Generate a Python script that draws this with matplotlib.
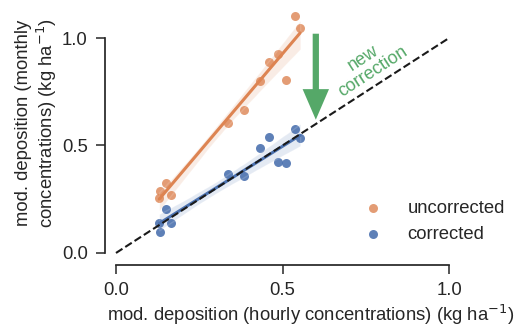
import numpy as np
import pandas as pd
import matplotlib
matplotlib.use("Agg")
import matplotlib.pyplot as plt
import seaborn as sns

# hourly-concentration deposition (x) and monthly-concentration deposition (y)
x_hourly = [0.538, 0.553, 0.486, 0.459, 0.511, 0.432, 0.385, 0.337, 0.150, 0.132, 0.165, 0.130]
y_uncorrected = [1.101, 1.048, 0.926, 0.890, 0.805, 0.800, 0.665, 0.603, 0.324, 0.290, 0.270, 0.254]
y_corrected = [0.575, 0.536, 0.425, 0.538, 0.417, 0.487, 0.358, 0.366, 0.203, 0.099, 0.141, 0.141]
labels = ["uncorrected", "corrected"]
ticks = [0.0, 0.5, 1.0]

sns.set_theme(style="ticks", palette="deep")
plt.rcParams['font.family'] = ['Liberation Sans', 'DejaVu Sans']
c_orange = sns.color_palette("deep")[1]
c_blue = sns.color_palette("deep")[0]
c_green = sns.color_palette("deep")[2]
fs = 13.3

fig = plt.figure(figsize=(5.3, 3.26), dpi=100)
ax = fig.add_axes([0.1981, 0.1871, 0.6617, 0.7952])

df = pd.DataFrame({'x': x_hourly, 'unc': y_uncorrected, 'cor': y_corrected})

sns.regplot(data=df, x='x', y='unc', ax=ax, color=c_orange, seed=1, label=labels[0],
            scatter_kws=dict(s=42, alpha=0.8, linewidths=0), line_kws=dict(lw=2.2))
sns.regplot(data=df, x='x', y='cor', ax=ax, color=c_blue, seed=1, label=labels[1],
            scatter_kws=dict(s=42, alpha=0.9, linewidths=0), line_kws=dict(lw=2.2))

ax.plot([0, 1], [0, 1], ls='--', color='k', lw=1.5, zorder=5)

ax.annotate('', xy=(0.6, 0.62), xytext=(0.6, 1.02),
            arrowprops=dict(facecolor=c_green, edgecolor='none', width=4.5, headwidth=19, headlength=22))
ax.text(0.757, 0.875, 'new\ncorrection', color=c_green, rotation=33, ha='center', va='center',
        fontsize=13, linespacing=1.0)

ax.set_xlim(-0.033, 1.02)
ax.set_ylim(-0.056, 1.15)
ax.set_xticks(ticks)
ax.set_yticks(ticks)
ax.spines['top'].set_visible(False)
ax.spines['right'].set_visible(False)
ax.spines['left'].set_bounds(0, 1)
ax.spines['bottom'].set_bounds(0, 1)
ax.tick_params(labelsize=fs, length=6.5, width=1.1)
ax.tick_params(axis='y', pad=6)
ax.tick_params(axis='x', pad=6)

ax.set_xlabel('mod. deposition (hourly concentrations) (kg ha$^{-1}$)', fontsize=fs)
ax.set_ylabel('mod. deposition (monthly\nconcentrations) (kg ha$^{-1}$)', fontsize=fs)
ax.xaxis.set_label_coords(0.587, -0.148)
ax.yaxis.set_label_coords(-0.13, 0.548)

handles, lbls = ax.get_legend_handles_labels()
ax.legend(handles[:2], lbls[:2], loc='lower right', frameon=False, fontsize=fs,
          bbox_to_anchor=(1.188, 0.021), handletextpad=0.9)

plt.savefig("out.png", dpi=100)
